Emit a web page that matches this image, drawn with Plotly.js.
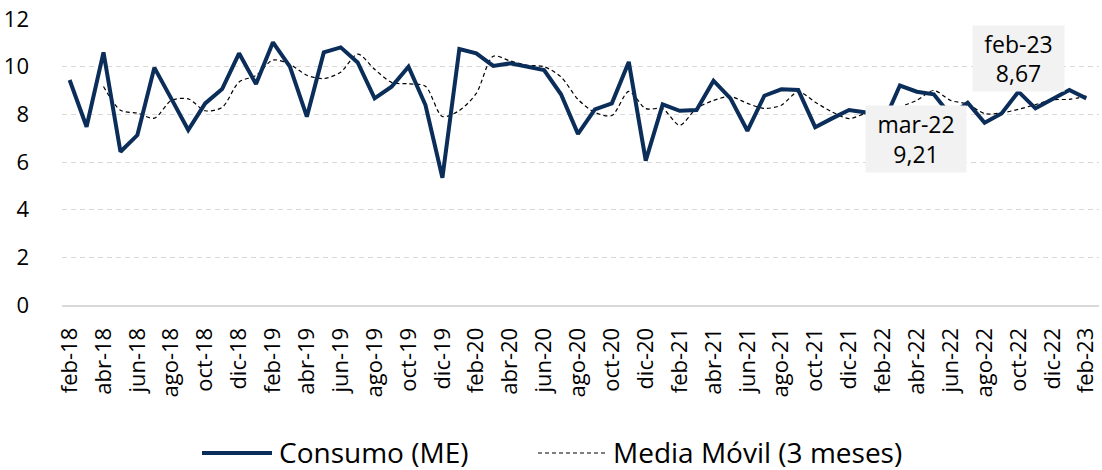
<!DOCTYPE html>
<html>
<head>
<meta charset="utf-8">
<script src="https://cdn.plot.ly/plotly-3.0.1.min.js"></script>
<style>
html,body{margin:0;padding:0;background:#fff;}
#chart{width:1102px;height:470px;}
</style>
</head>
<body>
<div id="chart"></div>
<script>
const months = [
  'feb-18','mar-18','abr-18','may-18','jun-18','jul-18','ago-18','sep-18','oct-18','nov-18','dic-18','ene-19',
  'feb-19','mar-19','abr-19','may-19','jun-19','jul-19','ago-19','sep-19','oct-19','nov-19','dic-19','ene-20',
  'feb-20','mar-20','abr-20','may-20','jun-20','jul-20','ago-20','sep-20','oct-20','nov-20','dic-20','ene-21',
  'feb-21','mar-21','abr-21','may-21','jun-21','jul-21','ago-21','sep-21','oct-21','nov-21','dic-21','ene-22',
  'feb-22','mar-22','abr-22','may-22','jun-22','jul-22','ago-22','sep-22','oct-22','nov-22','dic-22','ene-23',
  'feb-23'
];
const consumo = [
  9.44, 7.48, 10.60, 6.43, 7.13, 9.96, 8.66, 7.34, 8.46, 9.06, 10.56, 9.27,
  11.02, 10.00, 7.90, 10.60, 10.81, 10.18, 8.67, 9.16, 10.00, 8.39, 5.34, 10.74,
  10.56, 10.03, 10.14, 10.00, 9.86, 8.84, 7.18, 8.21, 8.46, 10.20, 6.06, 8.42,
  8.15, 8.18, 9.41, 8.67, 7.31, 8.78, 9.05, 9.02, 7.46, 7.83, 8.18, 8.08,
  7.60, 9.21, 8.95, 8.84, 7.95, 8.49, 7.65, 8.04, 8.95, 8.25, 8.63, 9.02,
  8.67
];
const mediaMovil = [
  null, null, 9.17, 8.17, 8.05, 7.84, 8.58, 8.65, 8.15, 8.29, 9.36, 9.63,
  10.28, 10.10, 9.64, 9.50, 9.77, 10.53, 9.89, 9.34, 9.28, 9.18, 7.91, 8.16,
  8.88, 10.44, 10.24, 10.06, 10.00, 9.57, 8.63, 8.08, 7.95, 8.96, 8.24, 8.23,
  7.54, 8.25, 8.58, 8.75, 8.46, 8.25, 8.38, 8.95, 8.51, 8.10, 7.82, 8.03,
  7.95, 8.30, 8.59, 9.00, 8.58, 8.43, 8.03, 8.06, 8.21, 8.41, 8.61, 8.63,
  8.77
];
const tickLabels = [
  'feb-18','abr-18','jun-18','ago-18','oct-18','dic-18',
  'feb-19','abr-19','jun-19','ago-19','oct-19','dic-19',
  'feb-20','abr-20','jun-20','ago-20','oct-20','dic-20',
  'feb-21','abr-21','jun-21','ago-21','oct-21','dic-21',
  'feb-22','abr-22','jun-22','ago-22','oct-22','dic-22',
  'feb-23'
];
const seriesNames = ['Consumo (ME)', 'Media Móvil (3 meses)'];
const callouts = [
  {month: 'mar-22', value: 9.21, text: 'mar-22<br>9,21', xshift: 16, yshift: -53, width: 100, height: 66},
  {month: 'feb-23', value: 8.67, text: 'feb-23<br>8,67', xshift: -68, yshift: 40, width: 91, height: 65}
];

const FONT = '"Open Sans", "Noto Sans", sans-serif';
const NAVY = '#0b2d59';

const traces = [
  {
    x: months, y: mediaMovil, name: seriesNames[1], type: 'scatter', mode: 'lines',
    line: {color: '#000000', width: 1.2, dash: '4px,3px', shape: 'spline', smoothing: 0.8},
    connectgaps: false, hoverinfo: 'x+y'
  },
  {
    x: months, y: consumo, name: seriesNames[0], type: 'scatter', mode: 'lines',
    line: {color: NAVY, width: 4}, hoverinfo: 'x+y'
  }
];

const PL = 62, PR = 3, PT = 19, PB = 165;
const pw = 1102 - PL - PR, ph = 470 - PT - PB;
function px2x(p){ return (p - PL) / pw; }
function py2y(p){ return (470 - PB - p) / ph; }

const legY = py2y(452);
const shapes = [
  {type: 'line', xref: 'paper', yref: 'paper', x0: px2x(202), x1: px2x(272), y0: py2y(453), y1: py2y(453),
   line: {color: NAVY, width: 4}},
  {type: 'line', xref: 'paper', yref: 'paper', x0: px2x(538), x1: px2x(606), y0: py2y(453), y1: py2y(453),
   line: {color: '#000000', width: 1.2, dash: '4px,3px'}}
];

const annotations = [
  {xref: 'paper', yref: 'paper', x: px2x(278), y: legY, xanchor: 'left', yanchor: 'middle',
   height: 30, valign: 'middle', borderpad: 0,
   text: seriesNames[0], showarrow: false, font: {family: FONT, size: 28, color: '#000'}},
  {xref: 'paper', yref: 'paper', x: px2x(612), y: legY, xanchor: 'left', yanchor: 'middle',
   height: 30, valign: 'middle', borderpad: 0,
   text: seriesNames[1], showarrow: false, font: {family: FONT, size: 28, color: '#000'}}
];
callouts.forEach(c => {
  annotations.push({
    xref: 'x', yref: 'y', x: c.month, y: c.value, text: c.text, showarrow: false,
    xshift: c.xshift, yshift: c.yshift, width: c.width, height: c.height,
    bgcolor: '#f2f2f2', borderpad: 0, align: 'center', valign: 'middle',
    font: {family: FONT, size: 23, color: '#000'}
  });
});

const layout = {
  width: 1102, height: 470,
  margin: {l: PL, r: PR, t: PT, b: PB, pad: 0},
  paper_bgcolor: '#ffffff', plot_bgcolor: '#ffffff',
  font: {family: FONT, color: '#000'},
  showlegend: false,
  xaxis: {
    type: 'category', range: [-0.45, months.length - 0.25],
    tickmode: 'array', tickvals: tickLabels, ticktext: tickLabels,
    tickangle: -90, tickfont: {family: FONT, size: 22, color: '#000'},
    showgrid: false, zeroline: false, showline: true, linecolor: '#d9d9d9', linewidth: 2,
    ticks: '', ticklabelstandoff: 12, fixedrange: true
  },
  yaxis: {
    range: [0, 12], tickvals: [0, 2, 4, 6, 8, 10, 12], ticktext: ['0','2','4','6','8','10','12'],
    tickfont: {family: FONT, size: 22, color: '#000'},
    showgrid: true, gridcolor: '#d9d9d9', gridwidth: 1, griddash: '5px,4px',
    zeroline: false, showline: false, ticks: '', ticklabelstandoff: 32, fixedrange: true
  },
  shapes: shapes,
  annotations: annotations
};

Plotly.newPlot('chart', traces, layout, {displayModeBar: false, staticPlot: true});
</script>
</body>
</html>
